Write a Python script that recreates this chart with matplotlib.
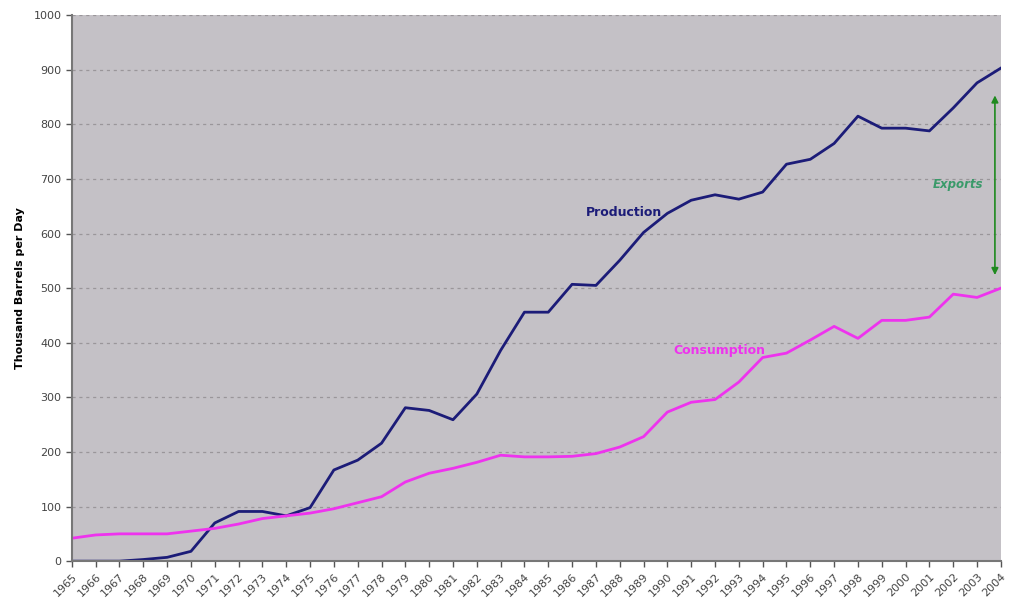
import numpy as np
import matplotlib.pyplot as plt

# Years and series (thousand barrels per day)
years = list(range(1965, 2005))
production = [0, 0, 0, 3, 7, 18, 70, 91, 91, 83, 98, 167, 185, 216, 281, 276, 259, 306,
              386, 456, 456, 507, 505, 551, 602, 637, 661, 671, 663, 676, 727, 736, 765,
              815, 793, 793, 788, 830, 876, 903]
consumption = [42, 48, 50, 50, 50, 55, 60, 68, 78, 83, 88, 96, 107, 118, 145, 161, 170, 181,
               194, 191, 191, 192, 197, 209, 228, 273, 291, 296, 328, 373, 381, 405, 430,
               408, 441, 441, 447, 489, 483, 500]
y_ticks = list(range(0, 1001, 100))

fig = plt.figure(figsize=(10.12, 6.06), dpi=100)
ax = fig.add_axes([0.071, 0.074, 0.918, 0.901])
ax.set_facecolor('#c4c1c6')

ax.plot(years, production, color='#1c1c78', lw=2)
ax.plot(years, consumption, color='#ee33ee', lw=2)

ax.set_xlim(1965, 2004)
ax.set_ylim(0, 1000)
ax.set_xticks(years)
ax.set_xticklabels([str(y) for y in years], rotation=45, ha='right',
                   rotation_mode='anchor', fontsize=8, color='#444444')
ax.set_yticks(y_ticks)
ax.set_yticklabels([str(v) for v in y_ticks], fontsize=8, color='#444444')
ax.tick_params(axis='both', direction='out', length=4, width=1, color='#555555')
ax.yaxis.grid(True, linestyle=(0, (2.5, 3)), color='#9a969a', lw=0.9)
ax.set_axisbelow(True)

for s in ['top', 'right']:
    ax.spines[s].set_visible(False)
for s in ['left', 'bottom']:
    ax.spines[s].set_color('#777777')
    ax.spines[s].set_linewidth(1.5)

ax.set_ylabel('Thousand Barrels per Day', fontsize=8, fontweight='bold', labelpad=6)

ax.text(1988.2, 639, 'Production', color='#1c1c78', fontsize=9, fontweight='bold',
        ha='center', va='center')
ax.text(1992.2, 385, 'Consumption', color='#ee33ee', fontsize=9, fontweight='bold',
        ha='center', va='center')

# Exports arrow between the two lines in 2004
ax.annotate('', xy=(2003.75, 524), xytext=(2003.75, 853),
            arrowprops=dict(arrowstyle='<|-|>', color='#1f8a1f', lw=1.2,
                            mutation_scale=10, shrinkA=0, shrinkB=0))
ax.text(2002.2, 689, 'Exports', color='#3a9a6a', fontsize=8.5, fontweight='bold',
        style='italic', ha='center', va='center')

fig.savefig('out.png', dpi=100)
